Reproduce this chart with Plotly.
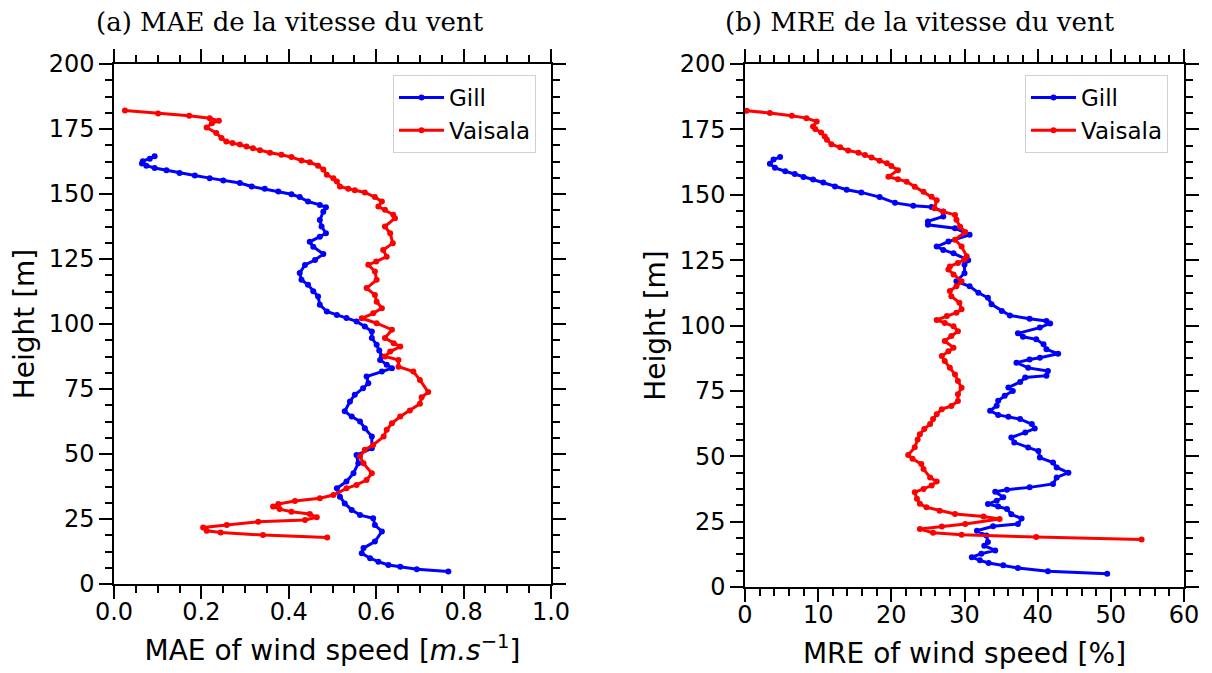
import plotly.graph_objects as go

W, H = 1212, 673

# ---------------- data ----------------
# (a) MAE - Gill
gill_mae_h = [164.5, 163.6, 162.6, 161.7, 160.9, 160.0, 159.1, 158.1, 157.1, 156.1, 155.2, 154.2,
              152.9, 152.0, 151.0, 149.9, 148.8, 147.1, 145.8, 144.9, 143.2, 140.0, 137.5, 134.9,
              133.6, 131.6, 129.7, 126.9, 124.6, 122.7, 119.6, 117.0, 115.1, 112.6, 110.6, 107.4,
              104.8, 103.5, 102.3, 101.0, 99.0, 97.1, 94.6, 92.0, 89.8, 87.5, 86.2, 84.3, 83.0,
              81.7, 79.8, 77.2, 75.3, 72.8, 70.2, 66.4, 64.4, 62.5, 59.9, 56.7, 52.2, 49.6, 46.4,
              42.6, 39.4, 36.8, 33.6, 31.0, 28.5, 26.5, 25.3, 22.7, 20.2, 16.3, 13.8, 11.8, 9.9,
              8.6, 7.3, 6.6, 5.7, 4.8]
gill_mae = [0.093, 0.082, 0.066, 0.064, 0.074, 0.093, 0.120, 0.150, 0.185, 0.219, 0.250, 0.288,
            0.315, 0.345, 0.376, 0.406, 0.425, 0.444, 0.471, 0.485, 0.479, 0.471, 0.475, 0.485,
            0.471, 0.448, 0.456, 0.479, 0.460, 0.437, 0.425, 0.429, 0.444, 0.456, 0.467, 0.471,
            0.487, 0.510, 0.532, 0.555, 0.574, 0.590, 0.590, 0.601, 0.607, 0.613, 0.609, 0.624, 0.636,
            0.613, 0.578, 0.582, 0.570, 0.551, 0.540, 0.528, 0.544, 0.563, 0.574, 0.590, 0.590, 0.555, 0.559,
            0.548, 0.532, 0.510, 0.517, 0.528, 0.544, 0.563, 0.593, 0.597, 0.613, 0.597, 0.571, 0.567, 0.586,
            0.605, 0.628, 0.655, 0.693, 0.765]

# (a) MAE - Vaisala
vais_mae_h = [182.1, 181.0, 180.1, 179.1, 178.2, 177.2, 175.6, 173.5, 171.5, 170.2, 169.6, 169.0,
              168.3, 167.6, 166.8, 165.9, 165.1, 164.2, 162.9, 162.2, 160.9, 159.4, 157.4, 156.1,
              154.8, 152.9, 152.0, 151.4, 150.6, 148.8, 147.1, 145.2, 143.9, 142.0, 140.7, 137.5,
              134.9, 131.1, 128.5, 125.9, 124.0, 122.8, 120.2, 117.0, 113.8, 111.2, 108.6, 106.1,
              104.1, 102.2, 100.3, 97.8, 94.6, 92.6, 91.3, 89.4, 87.5, 86.2, 83.6, 81.7, 78.5,
              73.8, 71.8, 69.3, 66.7, 64.4, 61.8, 59.3, 56.7, 53.5, 51.6, 49.0, 46.4, 42.6, 40.0,
              38.1, 36.8, 34.2, 33.0, 31.9, 30.8, 29.8, 28.8, 27.8, 26.9, 25.7, 24.6, 23.9, 22.7,
              21.7, 20.5, 19.8, 18.8, 17.9]
vais_mae = [0.025, 0.101, 0.172, 0.219, 0.240, 0.224, 0.212, 0.234, 0.246, 0.257, 0.271, 0.288,
            0.303, 0.318, 0.334, 0.357, 0.383, 0.406, 0.429, 0.448, 0.467, 0.479, 0.487, 0.502,
            0.510, 0.517, 0.536, 0.551, 0.574, 0.597, 0.613, 0.605, 0.620, 0.639, 0.643, 0.620,
            0.632, 0.638, 0.616, 0.624, 0.600, 0.582, 0.597, 0.601, 0.578, 0.597, 0.601, 0.613,
            0.593, 0.567, 0.601, 0.636, 0.620, 0.640, 0.655, 0.632, 0.620, 0.651, 0.651, 0.685, 0.700,
            0.719, 0.704, 0.700, 0.677, 0.655, 0.636, 0.624, 0.617, 0.593, 0.574, 0.563, 0.571, 0.590, 0.578,
            0.555, 0.532, 0.502, 0.471, 0.414, 0.376, 0.364, 0.379, 0.406, 0.448, 0.464, 0.437, 0.330, 0.258,
            0.204, 0.212, 0.244, 0.341, 0.488]

# (b) MRE - Gill
gill_mre_h = [164.4, 163.5, 161.9, 160.3, 159.0, 157.9, 156.8, 155.8, 154.7, 153.2, 151.9, 150.9,
              149.1, 146.9, 145.8, 145.3, 143.6, 141.7, 139.8, 138.5, 137.2, 134.7, 132.1, 130.2,
              128.9, 127.6, 125.0, 123.2, 120.0, 116.9, 115.0, 112.5, 110.6, 108.1, 105.5, 103.8,
              102.6, 101.7, 100.8, 99.2, 97.0, 95.7, 94.7, 92.8, 90.9, 89.2, 87.7, 87.0, 85.8,
              83.8, 82.6, 80.8, 80.1, 78.4, 76.3, 75.0, 73.1, 71.2, 69.3, 67.4, 65.8, 65.1, 64.2,
              62.3, 60.6, 59.1, 57.2, 55.3, 53.3, 52.0, 49.5, 47.6, 45.7, 43.7, 41.9, 39.4, 38.1,
              37.2, 36.4, 34.3, 33.0, 31.7, 30.8, 29.8, 27.8, 26.2, 24.1, 23.2, 21.5, 19.7, 17.2,
              15.8, 14.0, 12.7, 11.4, 10.2, 9.2, 8.3, 7.3, 6.0, 5.1]
gill_mre = [4.8, 3.9, 3.4, 4.1, 5.5, 6.8, 8.0, 9.3, 10.7, 12.3, 13.9, 15.9,
            18.4, 20.5, 23.0, 25.5, 27.1, 27.1, 25.0, 25.0, 28.7, 30.7, 27.8, 26.2,
            27.1, 28.5, 30.5, 30.0, 30.0, 28.9, 30.7, 31.9, 33.2, 33.7, 35.1, 36.2,
            38.9, 41.2, 41.7, 40.3, 37.3, 38.0, 39.8, 40.8, 41.2, 42.8, 40.3, 38.9, 37.1,
            38.7, 41.4, 41.2, 38.3, 37.6, 36.0, 36.6, 35.5, 34.6, 34.4, 33.5, 34.6, 36.0, 37.6,
            39.2, 39.6, 38.3, 36.4, 36.8, 38.7, 40.1, 40.3, 42.1, 42.6, 44.2, 42.6, 42.1, 38.9,
            35.8, 34.2, 35.3, 34.4, 33.2, 34.6, 35.8, 36.4, 37.8, 37.3, 33.9, 31.7, 33.0, 33.2,
            32.7, 34.2, 32.3, 31.0, 32.1, 33.3, 35.3, 37.3, 41.4, 49.5]

# (b) MRE - Vaisala
vais_mre_h = [182.1, 181.3, 180.2, 179.3, 178.0, 176.1, 175.1, 173.8, 172.3, 171.0, 169.3, 168.2,
              166.9, 166.1, 165.2, 164.2, 163.0, 162.0, 161.0, 159.4, 156.9, 155.9, 155.0, 153.1,
              151.1, 149.2, 147.9, 144.8, 143.5, 142.3, 140.4, 137.8, 135.8, 132.8, 130.2, 126.5,
              125.2, 123.9, 122.6, 121.4, 119.5, 116.9, 115.0, 113.2, 111.2, 108.7, 106.2, 104.9,
              103.6, 102.1, 101.0, 99.7, 97.8, 96.0, 94.1, 91.5, 90.2, 88.3, 86.4, 83.8, 81.3,
              78.8, 76.2, 73.7, 71.1, 69.2, 68.0, 66.1, 64.2, 62.3, 60.4, 58.4, 56.4, 53.4, 50.5,
              49.0, 47.0, 45.1, 41.9, 40.3, 38.8, 37.5, 36.2, 33.7, 31.8, 30.5, 29.2, 27.9, 27.0,
              26.0, 24.1, 23.1, 22.2, 20.7, 20.0, 19.1, 18.2]
vais_mre = [0.23, 3.4, 6.4, 8.4, 9.8, 9.3, 9.6, 10.4, 10.9, 11.2, 11.8, 13.0,
            14.1, 15.5, 16.4, 17.3, 18.4, 19.4, 20.0, 20.9, 19.6, 20.9, 22.1, 23.2,
            24.4, 25.5, 26.2, 25.9, 27.1, 28.7, 28.9, 29.4, 30.1, 28.7, 29.6, 30.3,
            30.0, 29.1, 28.0, 27.8, 28.5, 29.6, 28.9, 28.0, 28.2, 29.3, 29.6, 28.9,
            27.6, 26.2, 27.3, 28.5, 29.1, 28.2, 27.3, 28.5, 27.8, 26.9, 27.3, 28.0, 28.7,
            29.1, 29.6, 29.1, 29.1, 28.2, 26.9, 26.2, 25.7, 25.3, 24.5, 23.9, 23.6, 23.2, 22.3,
            22.9, 24.1, 24.4, 25.3, 26.2, 25.5, 24.4, 23.2, 23.5, 23.9, 24.8, 26.6, 28.7, 32.6,
            34.8, 30.1, 26.9, 23.9, 25.7, 29.6, 39.8, 54.2]

titles = ["(a) MAE de la vitesse du vent", "(b) MRE de la vitesse du vent"]
series_names = ["Gill", "Vaisala"]
colors = ["#0000ff", "#ff0000"]

# ---------------- layout geometry (pixels) ----------------
def px_x(x):
    return x / W

def px_y(y):
    return 1 - y / H

fig = go.Figure()

panels = [
    (gill_mae, gill_mae_h, vais_mae, vais_mae_h, "x", "y", "legend"),
    (gill_mre, gill_mre_h, vais_mre, vais_mre_h, "x2", "y2", "legend2"),
]
for gx, gh, vx, vh, xa, ya, lg in panels:
    for name, xs, hs, c in [(series_names[0], gx, gh, colors[0]), (series_names[1], vx, vh, colors[1])]:
        fig.add_trace(go.Scatter(
            x=xs, y=hs, mode="lines+markers", name=name,
            line=dict(color=c, width=3),
            marker=dict(color=c, size=6),
            xaxis=xa, yaxis=ya, legend=lg,
        ))

tick_font = dict(family="DejaVu Sans", size=24, color="black")
title_font = dict(family="DejaVu Sans", size=28, color="black")

common_axis = dict(
    showgrid=False, zeroline=False, showline=True, linecolor="black", linewidth=1.5,
    mirror="ticks", ticks="outside", ticklen=13, tickwidth=1.5, tickcolor="black",
    tickfont=tick_font, title_font=title_font, automargin=False,
)
minor_common = dict(ticks="outside", ticklen=7, tickwidth=1.5, tickcolor="black")

fig.update_layout(
    width=W, height=H,
    margin=dict(l=0, r=0, t=0, b=0, autoexpand=False),
    paper_bgcolor="white", plot_bgcolor="white",
    showlegend=True,
    xaxis=dict(domain=[px_x(114), px_x(551)], anchor="y", range=[0, 1], dtick=0.2, tick0=0,
               tickformat=".1f", minor=dict(dtick=0.05, **minor_common), ticklabelstandoff=-8,
               title=dict(text="MAE of wind speed [<i>m.s</i><sup>−1</sup>]", standoff=16),
               **common_axis),
    yaxis=dict(domain=[px_y(584), px_y(64)], anchor="x", range=[0, 200], dtick=25, tick0=0,
               minor=dict(dtick=6.25, **minor_common),
               title=dict(text="Height [m]", standoff=6),
               **common_axis),
    xaxis2=dict(domain=[px_x(745), px_x(1184)], anchor="y2", range=[0, 60], dtick=10, tick0=0,
                minor=dict(dtick=2, **minor_common), ticklabelstandoff=-8,
                title=dict(text="MRE of wind speed [%]", standoff=16),
                **common_axis),
    yaxis2=dict(domain=[px_y(587), px_y(64)], anchor="x2", range=[0, 200], dtick=25, tick0=0,
                minor=dict(dtick=6.25, **minor_common),
                title=dict(text="Height [m]", standoff=6),
                **common_axis),
    legend=dict(x=px_x(536), y=px_y(75), xanchor="right", yanchor="top",
                bgcolor="white", bordercolor="#d0d0d0", borderwidth=1,
                font=dict(family="DejaVu Sans", size=23, color="black"),
                tracegroupgap=0, itemwidth=45),
    legend2=dict(x=px_x(1168), y=px_y(75), xanchor="right", yanchor="top",
                 bgcolor="white", bordercolor="#d0d0d0", borderwidth=1,
                 font=dict(family="DejaVu Sans", size=23, color="black"),
                 tracegroupgap=0, itemwidth=45),
    annotations=[
        dict(text=titles[0], x=px_x(290), y=px_y(22), xref="paper", yref="paper",
             xanchor="center", yanchor="middle", showarrow=False,
             font=dict(family="DejaVu Serif", size=26, color="black")),
        dict(text=titles[1], x=px_x(920), y=px_y(22), xref="paper", yref="paper",
             xanchor="center", yanchor="middle", showarrow=False,
             font=dict(family="DejaVu Serif", size=26, color="black")),
    ],
)

fig.write_html(
    "out.html",
    config={"displayModeBar": False},
    post_script="document.body.style.margin='0';document.body.style.overflow='hidden';",
)
